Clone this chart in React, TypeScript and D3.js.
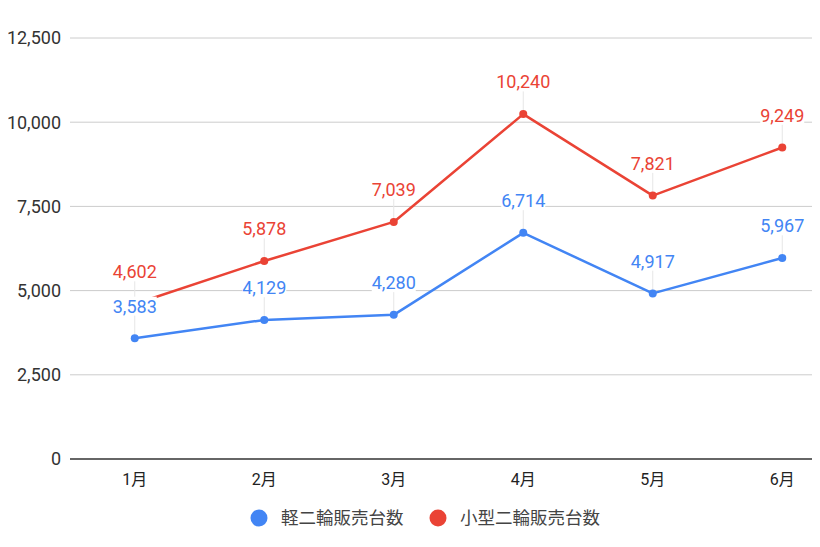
// @ts-nocheck
import { useEffect, useRef } from 'react';
import * as d3 from 'd3';

const months = ['1月', '2月', '3月', '4月', '5月', '6月'];
const keiValues = [3583, 4129, 4280, 6714, 4917, 5967];
const kogataValues = [4602, 5878, 7039, 10240, 7821, 9249];
const yTicks = [0, 2500, 5000, 7500, 10000, 12500];

const series = [
  { name: '軽二輪販売台数', values: keiValues, color: '#4285F4' },
  { name: '小型二輪販売台数', values: kogataValues, color: '#EA4335' }
];

const LineChart = () => {
  const svgRef = useRef();

  useEffect(() => {
    const svg = d3.select(svgRef.current);
    svg.selectAll('*').remove();

    const width = 820;
    const height = 547;
    const plot = { left: 70, right: 847, top: 38, bottom: 459 };
    const font = 'Roboto, "Noto Sans CJK JP", sans-serif';
    const cjkFont = '"Noto Sans CJK JP", Roboto, sans-serif';

    svg.attr('width', width).attr('height', height);

    const x = d3.scalePoint().domain(months).range([plot.left, plot.right]).padding(0.5);
    const y = d3.scaleLinear().domain([0, 12500]).range([plot.bottom, plot.top]);

    // Gridlines
    svg.append('g')
      .selectAll('line')
      .data(yTicks.filter(d => d > 0))
      .enter()
      .append('line')
      .attr('x1', plot.left)
      .attr('x2', width)
      .attr('y1', d => y(d))
      .attr('y2', d => y(d))
      .attr('stroke', '#cccccc')
      .attr('stroke-width', 1);

    // y labels
    svg.append('g')
      .selectAll('text')
      .data(yTicks)
      .enter()
      .append('text')
      .attr('x', 61)
      .attr('y', d => y(d))
      .attr('dy', '0.35em')
      .attr('text-anchor', 'end')
      .style('font-family', font)
      .style('font-size', '18px')
      .attr('fill', '#333')
      .text(d => d3.format(',')(d));

    // x labels
    svg.append('g')
      .selectAll('text')
      .data(months)
      .enter()
      .append('text')
      .attr('x', d => x(d))
      .attr('y', 479)
      .attr('dy', '0.35em')
      .attr('text-anchor', 'middle')
      .style('font-family', font)
      .style('font-size', '16px')
      .attr('fill', '#222')
      .text(d => d);

    // Leader lines from points up to labels
    series.forEach(s => {
      svg.append('g')
        .selectAll('line')
        .data(s.values)
        .enter()
        .append('line')
        .attr('x1', (d, i) => x(months[i]))
        .attr('x2', (d, i) => x(months[i]))
        .attr('y1', d => y(d))
        .attr('y2', d => y(d) - 30)
        .attr('stroke', '#e6e6e6')
        .attr('stroke-width', 1);
    });

    const line = d3.line()
      .x((d, i) => x(months[i]))
      .y(d => y(d));

    series.forEach(s => {
      svg.append('path')
        .datum(s.values)
        .attr('fill', 'none')
        .attr('stroke', s.color)
        .attr('stroke-width', 2.5)
        .attr('stroke-linejoin', 'round')
        .attr('d', line);

      svg.append('g')
        .selectAll('circle')
        .data(s.values)
        .enter()
        .append('circle')
        .attr('cx', (d, i) => x(months[i]))
        .attr('cy', d => y(d))
        .attr('r', 4)
        .attr('fill', s.color);
    });

    // Baseline
    svg.append('line')
      .attr('x1', plot.left)
      .attr('x2', width)
      .attr('y1', y(0))
      .attr('y2', y(0))
      .attr('stroke', '#333')
      .attr('stroke-width', 1.5);

    // Data labels with white background
    series.forEach(s => {
      const g = svg.append('g');
      s.values.forEach((v, i) => {
        const cx = x(months[i]);
        const cy = y(v) - 32;
        const lg = g.append('g');
        const t = lg.append('text')
          .attr('x', cx)
          .attr('y', cy)
          .attr('dy', '0.35em')
          .attr('text-anchor', 'middle')
          .style('font-family', font)
          .style('font-size', '18px')
          .attr('fill', s.color)
          .text(d3.format(',')(v));
        const bb = t.node().getBBox();
        lg.insert('rect', 'text')
          .attr('x', bb.x)
          .attr('y', bb.y + 1)
          .attr('width', bb.width)
          .attr('height', bb.height - 2)
          .attr('fill', 'white');
      });
    });

    // Legend
    const legendItems = [
      { s: series[0], cx: 259 },
      { s: series[1], cx: 438 }
    ];
    legendItems.forEach(({ s, cx }) => {
      svg.append('circle')
        .attr('cx', cx)
        .attr('cy', 518)
        .attr('r', 8.5)
        .attr('fill', s.color);
      svg.append('text')
        .attr('x', cx + 22)
        .attr('y', 518)
        .attr('dy', '0.35em')
        .style('font-family', cjkFont)
        .style('font-size', '17.5px')
        .attr('fill', '#444')
        .text(s.name);
    });
  }, []);

  return <svg ref={svgRef} style={{ display: 'block' }}></svg>;
};

export default function App() {
  return (
    <div style={{ margin: -8 }}>
      <LineChart />
    </div>
  );
}
